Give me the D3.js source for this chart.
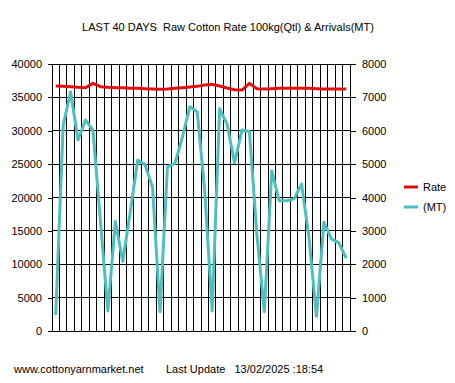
<!DOCTYPE html>
<html><head><meta charset="utf-8">
<script src="https://cdn.jsdelivr.net/npm/d3@7"></script>
<style>
html,body{margin:0;padding:0;background:#fff;}
svg{display:block;font-family:"Liberation Sans",Arial,sans-serif;}
</style></head>
<body><svg id="c" width="455" height="383"></svg>
<script>
const days = d3.range(1, 41);
const arrivals = [2400,30800,35800,28600,31600,30100,16500,3000,16400,10400,
  17800,25600,24900,21500,2900,24600,25100,29000,33600,32800,
  21000,3000,33300,31000,25200,30100,29900,14500,2900,24000,
  19500,19500,19800,22000,14000,2200,16300,13800,13200,10900];
const rate = [7340,7335,7320,7300,7290,7420,7320,7300,7290,7290,
  7270,7270,7260,7250,7240,7250,7270,7290,7310,7330,
  7370,7390,7340,7280,7230,7220,7420,7260,7250,7260,
  7270,7270,7270,7270,7270,7260,7250,7250,7250,7250];
const leftTicks = [0,5000,10000,15000,20000,25000,30000,35000,40000];
const rightTicks = [0,1000,2000,3000,4000,5000,6000,7000,8000];
const title = "LAST 40 DAYS  Raw Cotton Rate 100kg(Qtl) & Arrivals(MT)";
const footerSite = "www.cottonyarnmarket.net";
const footerUpdate = "Last Update   13/02/2025 :18:54";
const legendNames = ["Rate", "(MT)"];
const colRate = "#e01010", colMT = "#4cbfbf";

const svg = d3.select("#c");
const L = 52, R = 350, T = 64, B = 331;
const x = d3.scaleBand().domain(days).range([L, R]);
const yL = d3.scaleLinear().domain([0, 40000]).range([B, T]);
const yR = d3.scaleLinear().domain([0, 8000]).range([B, T]);
const cx = d => x(d) + x.bandwidth() / 2;

// vertical gridlines at band boundaries
const vx = days.map(d => x(d)).concat([R]);
svg.append("g").selectAll("line").data(vx).join("line")
  .attr("x1", d => d).attr("x2", d => d).attr("y1", T).attr("y2", B)
  .attr("stroke", "#000").attr("stroke-width", 1).attr("shape-rendering", "crispEdges");
// horizontal gridlines
svg.append("g").selectAll("line").data(leftTicks).join("line")
  .attr("x1", L).attr("x2", R).attr("y1", d => yL(d)).attr("y2", d => yL(d))
  .attr("stroke", "#000").attr("stroke-width", 1).attr("shape-rendering", "crispEdges");

const gl = svg.append("g").attr("transform", `translate(${L},0)`)
  .call(d3.axisLeft(yL).tickValues(leftTicks).tickSize(4).tickSizeOuter(0).tickPadding(6).tickFormat(d3.format("d")));
const gr = svg.append("g").attr("transform", `translate(${R},0)`)
  .call(d3.axisRight(yR).tickValues(rightTicks).tickSize(6).tickSizeOuter(0).tickPadding(6).tickFormat(d3.format("d")));
[gl, gr].forEach(g => {
  g.selectAll("path").attr("stroke", "#000").attr("shape-rendering", "crispEdges");
  g.selectAll("line").attr("stroke", "#000").attr("shape-rendering", "crispEdges");
  g.selectAll("text").attr("font-size", 11).attr("fill", "#000").attr("font-family", "Liberation Sans, Arial, sans-serif");
});

const lineMT = d3.line().x((d, i) => cx(days[i])).y(d => yL(d));
const lineRate = d3.line().x((d, i) => cx(days[i])).y(d => yR(d));
svg.append("path").datum(arrivals).attr("d", lineMT)
  .attr("fill", "none").attr("stroke", colMT).attr("stroke-width", 3).attr("stroke-linejoin", "round");
svg.append("path").datum(rate).attr("d", lineRate)
  .attr("fill", "none").attr("stroke", colRate).attr("stroke-width", 3).attr("stroke-linejoin", "round");

// title
svg.append("text").attr("x", 228).attr("y", 31).attr("text-anchor", "middle")
  .attr("font-size", 11).attr("fill", "#000").style("white-space", "pre").text(title);

// legend
const lg = svg.append("g");
[colRate, colMT].forEach((c, i) => {
  const yy = 187 + i * 20;
  lg.append("line").attr("x1", 404).attr("x2", 418).attr("y1", yy).attr("y2", yy)
    .attr("stroke", c).attr("stroke-width", 3);
  lg.append("text").attr("x", 423).attr("y", yy + 4).attr("font-size", 11).attr("fill", "#000").text(legendNames[i]);
});

// footer
svg.append("text").attr("x", 14).attr("y", 373).attr("font-size", 11).attr("fill", "#000").text(footerSite);
svg.append("text").attr("x", 166).attr("y", 373).attr("font-size", 11).attr("fill", "#000")
  .style("white-space", "pre").text(footerUpdate);
</script></body></html>
